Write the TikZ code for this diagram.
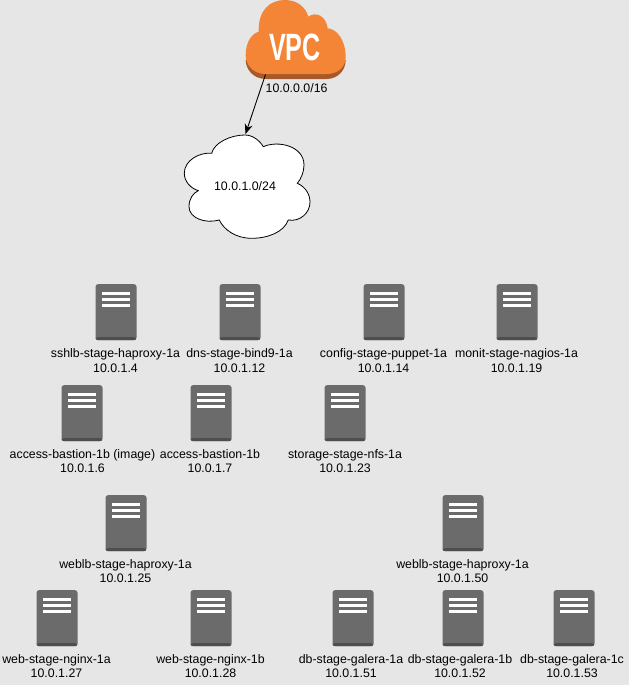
\documentclass[tikz,border=0pt]{standalone}
\usepackage{fontspec}
\setmainfont{Liberation Sans}
\usetikzlibrary{arrows.meta,calc}
\definecolor{bgc}{HTML}{E6E6E6}
\definecolor{srvc}{HTML}{6B6B6B}
\definecolor{srvd}{HTML}{4E4E4E}
\definecolor{vpco}{HTML}{F58536}
\definecolor{vpcd}{HTML}{A65A2A}
\tikzset{
  srvbody/.style={fill=srvc,rounded corners=2.5pt,minimum width=41pt,minimum height=56pt,inner sep=0pt,draw=none,anchor=north,
    path picture={\fill[srvd] ([yshift=3pt]path picture bounding box.south west) rectangle (path picture bounding box.south east);}},
  srvbar/.style={fill=white,draw=none},
  txt/.style={font=\fontsize{12.35}{14.4}\selectfont,align=center,inner sep=0pt,text=black},
  conn/.style={draw=black,line width=.9pt,-{Stealth[length=10pt,width=8pt]}}
}
\newcommand{\srvnode}[7]{% name, cx, top, label cx, label text, ip, label y
  \node[srvbody] (#1) at (#2,#3) {};
  \foreach \d in {8,14,20}{\fill[srvbar] ($(#1.north)+(-14,\d)$) rectangle ($(#1.north)+(14,\d+3)$);}
  \node[txt] (#1-t) at (#4,#7) {#5\\#6};
}
\begin{document}
\begin{tikzpicture}[x=1pt,y=-1pt]
\useasboundingbox (0,0) rectangle (629,685);
\fill[bgc] (0,0) rectangle (629,685);
% VPC cloud
\fill[vpcd] (266,79) .. controls (252,79) and (245.7,68) .. (245.7,60) -- (345.7,60) .. controls (345.7,70) and (338,79) .. (326.7,79) -- cycle;
\fill[vpco] (266,74) .. controls (252,74) and (245.7,64) .. (245.7,55)
  .. controls (245.7,43) and (251,34) .. (258.7,31.7)
  .. controls (258,10) and (270,0) .. (285,0)
  .. controls (298,0) and (306,8) .. (308.3,16.7)
  .. controls (316,11) and (326,16) .. (327.7,28.3)
  .. controls (338,29) and (345.7,42) .. (345.7,56.7)
  .. controls (345.7,67) and (338,74) .. (326.7,74) -- cycle;
\node[inner sep=0pt,text=white,font=\bfseries\fontsize{38}{38}\selectfont] (vpc) at (295,47) {\scalebox{.66}[1]{VPC}};
\node[txt,anchor=west] (vpcip) at (265.5,88.5) {10.0.0.0/16};
% Subnet cloud
\draw[fill=white,draw=black,line width=.8pt] (211.7,153.3)
  .. controls (214,143) and (230,135) .. (245,135)
  .. controls (253,135) and (260,141) .. (263.3,146.7)
  .. controls (278,140) and (304,146) .. (304,165)
  .. controls (304,172) and (301,179) .. (297.3,183.3)
  .. controls (306,187) and (310,195) .. (310,202)
  .. controls (310,213) and (300,222) .. (288.3,220)
  .. controls (284,232) and (268,238.3) .. (251.7,238.3)
  .. controls (236,238.3) and (224,230) .. (219.3,220)
  .. controls (205,224) and (189,218) .. (189,206.7)
  .. controls (189,199) and (193,193) .. (198.3,190.7)
  .. controls (190,188) and (184.3,181) .. (184.3,173.3)
  .. controls (184.3,160) and (200,152) .. (211.7,153.3) -- cycle;
\node[txt] (net) at (245,186) {10.0.1.0/24};
\coordinate (vpcfoot) at (265.5,74.5);
\coordinate (nettop) at (245.5,134);
\draw[conn] (vpcfoot) -- (nettop);
% Servers
\srvnode{a1}{116}{284}{115.5}{sshlb-stage-haproxy-1a}{10.0.1.4}{360.5}
\srvnode{a2}{240}{284}{239.5}{dns-stage-bind9-1a}{10.0.1.12}{360.5}
\srvnode{a3}{384}{284}{383.5}{config-stage-puppet-1a}{10.0.1.14}{360.5}
\srvnode{a4}{517}{284}{516.5}{monit-stage-nagios-1a}{10.0.1.19}{360.5}
\srvnode{b1}{82}{385}{82.5}{access-bastion-1b (image)}{10.0.1.6}{461}
\srvnode{b2}{211}{385}{210}{access-bastion-1b}{10.0.1.7}{461}
\srvnode{b3}{345}{385}{345}{storage-stage-nfs-1a}{10.0.1.23}{461}
\srvnode{c1}{126}{495}{125.5}{weblb-stage-haproxy-1a}{10.0.1.25}{571}
\srvnode{c2}{463}{495}{462.5}{weblb-stage-haproxy-1a}{10.0.1.50}{571}
\srvnode{d1}{57}{590}{56.5}{web-stage-nginx-1a}{10.0.1.27}{666}
\srvnode{d2}{211}{590}{210.5}{web-stage-nginx-1b}{10.0.1.28}{666}
\srvnode{d3}{353}{590}{351}{db-stage-galera-1a}{10.0.1.51}{666}
\srvnode{d4}{463}{590}{460}{db-stage-galera-1b}{10.0.1.52}{666}
\srvnode{d5}{574}{590}{572}{db-stage-galera-1c}{10.0.1.53}{666}
\end{tikzpicture}
\end{document}
